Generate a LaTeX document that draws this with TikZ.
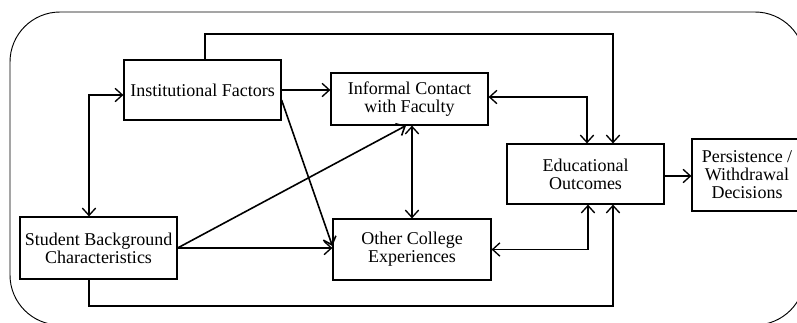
\documentclass[tikz,border=0pt]{standalone}
\usepackage{fontspec}
\setmainfont{Liberation Serif}
\usetikzlibrary{arrows.meta}

\tikzset{
  factor/.style={draw, line width=0.9pt, align=center, inner sep=0pt,
    minimum width=117.75pt, minimum height=45pt,
    font=\fontsize{13.5}{13.5}\selectfont}
}

\begin{document}
\begin{tikzpicture}[x=0.75pt, y=-0.75pt, line width=1pt,
    >={Straight Barb[length=5.5pt,width=10pt]}]
  \useasboundingbox (0,0) rectangle (797,322);
  \clip (0,0) rectangle (797,322);

  % Outer frame
  \draw[line width=0.7pt, rounded corners=37.5pt] (10,12) rectangle (805,325);

  % Factors
  \node[factor] (inst) at (202.5,90) {Institutional Factors};
  \node[factor, minimum height=39pt] (contact) at (409.5,99) {Informal Contact\\with Faculty};
  \node[factor, minimum height=46.5pt] (back) at (98.5,248) {Student Background\\Characteristics};
  \node[factor, minimum width=118.5pt, minimum height=45.75pt] (college) at (412,249.5) {Other College\\Experiences};
  \node[factor] (outcome) at (585.5,174) {Educational\\Outcomes};
  \node[factor, minimum width=82.5pt, minimum height=54pt] (decision) at (747,175) {Persistence /\\Withdrawal\\Decisions};

  % Bends
  \coordinate (instTop) at (205,34);
  \coordinate (outTop) at (613,34);
  \coordinate (backLeft) at (89,95);
  \coordinate (backBot) at (89,306);
  \coordinate (outBot) at (613,306);

  % Connectors
  \draw[->] (inst.north -| instTop) -- (instTop) -- (outTop) -- (outcome.north -| outTop);
  \draw[<->] (inst.west |- backLeft) -- (backLeft) -- (back.north -| backLeft);
  \draw[->, line width=1.2pt] (inst.east) ++(0,10) -- (college.west |- 0,246);
  \draw[->] (inst.east) -- (contact.west |- inst.east);
  \draw[<->] (contact.east |- 0,97) -| (outcome.north -| 587,0);
  \draw[->, line width=1.2pt] (back.east) -- (contact.south -| 406,0);
  \draw[->] (back.east) -- (back.east -| college.west);
  \draw[<->] (contact.south -| 412,0) -- (college.north -| 412,0);
  \draw[<->] (college.east) -| (outcome.south -| 588,0);
  \draw[->] (back.south -| backBot) -- (backBot) -- (outBot) -- (outcome.south -| outBot);
  \draw[->] (outcome.east |- 0,176) -- (decision.west |- 0,176);
\end{tikzpicture}
\end{document}
